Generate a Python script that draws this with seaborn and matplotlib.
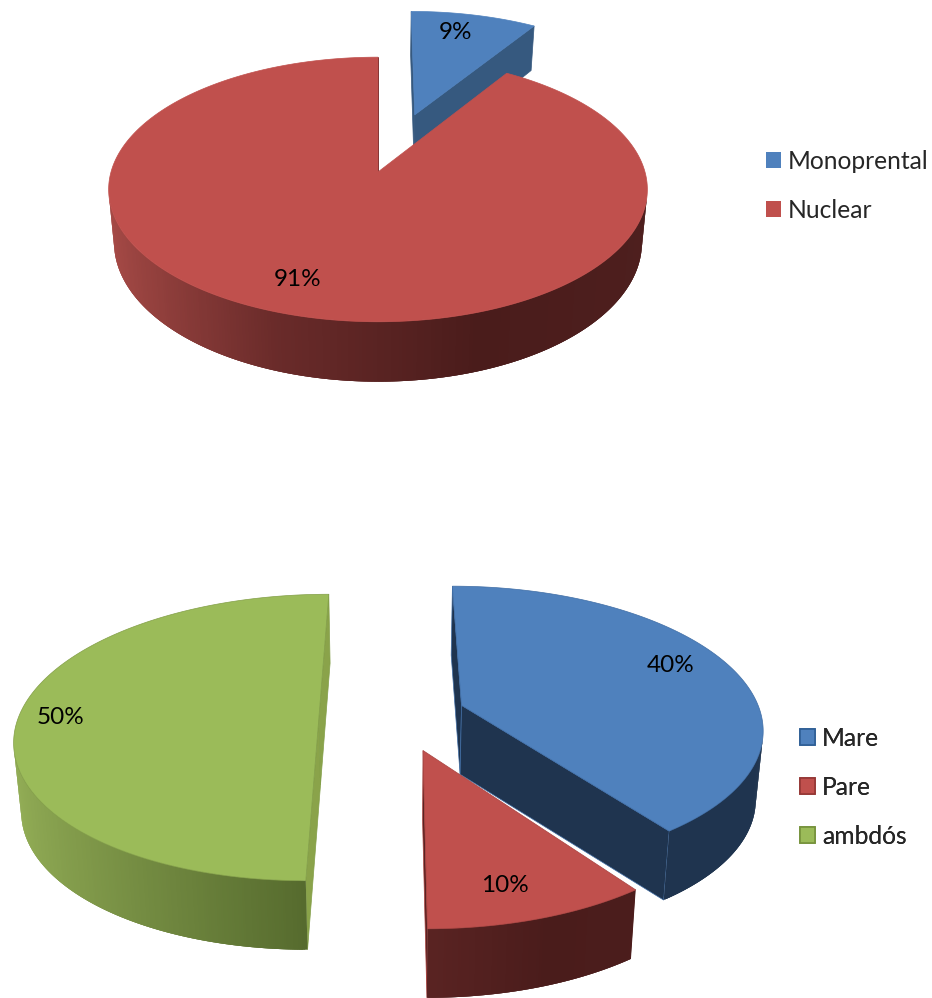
import numpy as np
import matplotlib
matplotlib.use("Agg")
import matplotlib.pyplot as plt
from matplotlib.patches import Patch
import seaborn as sns

family_labels = ["Monoprental", "Nuclear"]
family_values = [9, 91]
family_explode = [0.45, 0.0]

carer_labels = ["Mare", "Pare", "ambdós"]
carer_values = [40, 10, 50]
carer_explode = [0.25, 0.25, 0.25]

BLUE = "#4F81BD"
RED = "#C0504D"
GREEN = "#9BBB59"

sns.set_theme(style="white")
plt.rcParams["font.family"] = ["Lato", "DejaVu Sans"]

# rim shading, left side of the pie -> right side
red_rim = sns.blend_palette(["#A84B47", "#6A2B2A", "#4A1C1B", "#4E1F1E"], as_cmap=True)
blue_rim = sns.blend_palette(["#1F344F", "#1F344F"], as_cmap=True)
green_rim = sns.blend_palette(["#94AF57", "#566B2E", "#4E6229"], as_cmap=True)


def cross(p0, p1, p2):
    return (p1[0] - p0[0]) * (p2[1] - p1[1]) - (p1[1] - p0[1]) * (p2[0] - p1[0])


def draw_pie(ax, values, explode, colors, rims, cuts, order, geom, nudge, edges=None):
    """Draw a tilted, extruded pie. Angles run clockwise from the top."""
    cx, cy, rx, ry, k, depth, p, shrink = geom

    def project(x, y, low=False):
        x, y = np.asarray(x), np.asarray(y)
        s = 1 / (1 - k * y)
        px = rx * x * s
        py = cy + ry * y * s
        if low:
            return cx + px * shrink, py + depth * s ** p
        return cx + px, py

    fractions = np.array(values) / sum(values)
    starts = np.concatenate([[0], np.cumsum(fractions)[:-1]]) * 2 * np.pi
    spans = fractions * 2 * np.pi

    for i in order:
        t0, span = starts[i], spans[i]
        mid = t0 + span / 2
        ox, oy = explode[i] * np.sin(mid), -explode[i] * np.cos(mid)
        t = np.linspace(t0, t0 + span, 480)
        rim_x, rim_y = ox + np.sin(t), oy - np.cos(t)
        edge = edges[i] if edges else None
        dx, dy = nudge[i]

        # the two cut faces, only when they turn towards the viewer
        for end, sign in ((0, -1), (-1, 1)):
            xs = [ox, rim_x[end]]
            ys = [oy, rim_y[end]]
            xt, yt = project(xs, ys)
            xb, yb = project(xs, ys, low=True)
            if sign * cross((xt[0], yt[0]), (xt[1], yt[1]), (xb[1], yb[1])) > 0:
                ax.fill([xt[0] + dx, xt[1] + dx, xb[1] + dx, xb[0] + dx],
                        [yt[0] + dy, yt[1] + dy, yb[1] + dy, yb[0] + dy],
                        facecolor=cuts[i], edgecolor=edge or cuts[i], lw=0.5, zorder=i + 1)

        # outer wall as overlapping strips so the shading can vary along it
        tx, ty = project(rim_x, rim_y)
        bx, by = project(rim_x, rim_y, low=True)
        for j in range(len(t) - 3):
            if cross((tx[j], ty[j]), (tx[j + 3], ty[j + 3]), (bx[j + 3], by[j + 3])) >= 0:
                continue
            c = rims[i]((np.sin(t[j]) + 1) / 2)
            ax.fill(np.array([tx[j], tx[j + 3], bx[j + 3], bx[j]]) + dx,
                    np.array([ty[j], ty[j + 3], by[j + 3], by[j]]) + dy,
                    color=c, lw=0, zorder=i + 1)

        # top face
        fx, fy = project(np.r_[ox, rim_x], np.r_[oy, rim_y])
        ax.fill(fx + dx, fy + dy, facecolor=colors[i], edgecolor=edge or colors[i],
                lw=0.5, zorder=i + 1)


def add_legend(ax, labels, colors, anchor, edges=None):
    handles = []
    for i, lab in enumerate(labels):
        handles.append(Patch(facecolor=colors[i], edgecolor=edges[i] if edges else colors[i],
                             lw=1.2 if edges else 0, label=lab))
    leg = ax.legend(handles=handles, loc="upper left", bbox_to_anchor=anchor,
                    bbox_transform=ax.transData, frameon=False, fontsize=17.7,
                    handlelength=0.61, handleheight=0.61, handletextpad=0.29,
                    labelspacing=1.05, borderpad=0, borderaxespad=0)
    ax.add_artist(leg)


fig, ax = plt.subplots(figsize=(9.32, 9.98), dpi=100)
fig.subplots_adjust(0, 0, 1, 1)
ax.set_xlim(0, 932)
ax.set_ylim(998, 0)
ax.axis("off")

# first chart
draw_pie(ax, family_values, family_explode, [BLUE, RED], [blue_rim, red_rim],
         ["#36597F", "#6A2B2A"], [0, 1],
         (378, 172, 267, 130, 0.132, 52, 1, 0.98), [(5, -4), (0, 0)])
for v, pos in zip(family_values, [(455, 32), (298, 279)]):
    ax.text(pos[0], pos[1], f"{v}%", fontsize=17.5, color="black", ha="center", va="center", zorder=10)
add_legend(ax, family_labels, [BLUE, RED], (766, 150))

# second chart
carer_edges = ["#3F6DA5", "#A8423F", "#839F48"]
draw_pie(ax, carer_values, carer_explode, [BLUE, RED, GREEN], [blue_rim, red_rim, green_rim],
         ["#1F344F", "#5A2322", "#8AA34A"], [2, 0, 1],
         (393, 716, 300, 140, 0.15, 69, 0, 0.98), [(-2, 0), (6, 0), (1, 0)], edges=carer_edges)
for v, pos in zip(carer_values, [(671, 665), (505, 886), (61, 718)]):
    ax.text(pos[0], pos[1], f"{v}%", fontsize=17.5, color="black", ha="center", va="center", zorder=10)
add_legend(ax, carer_labels, [BLUE, RED, GREEN], (800, 727), edges=["#2F5F96", "#953735", "#76923C"])

fig.savefig("out.png", dpi=100)
